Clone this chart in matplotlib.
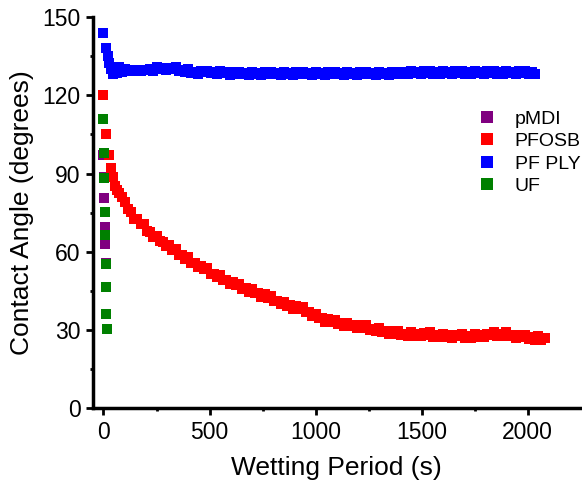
import matplotlib.pyplot as plt

plt.rcParams['font.family'] = ['Liberation Sans', 'DejaVu Sans']

# pMDI and UF drops are absorbed within seconds
t_pmdi = [0, 2, 4, 6, 8, 10]
ca_pmdi = [97.0, 88.6, 80.5, 69.5, 63.0, 55.5]

t_uf = [0, 2, 4, 6, 8, 10, 12, 14, 16]
ca_uf = [111.0, 97.8, 88.1, 75.3, 66.4, 55.2, 46.3, 36.1, 30.3]

# PFOSB decays slowly over ~35 min
t_pfosb = [0, 12, 25, 35, 45, 55, 65, 75, 85,
           100, 115, 130, 145, 160, 175, 190, 205, 220, 235,
           250, 265, 280, 295, 310, 325, 340, 355, 370, 385,
           400, 415, 430, 445, 460, 475, 490, 505, 520, 535,
           550, 565, 580, 595, 610, 625, 640, 655, 670, 685,
           700, 715, 730, 745, 760, 775, 790, 805, 820, 835,
           850, 865, 880, 895, 910, 925, 940, 955, 970, 985,
           1000, 1015, 1030, 1045, 1060, 1075, 1090, 1105, 1120, 1135,
           1150, 1165, 1180, 1195, 1210, 1225, 1240, 1255, 1270, 1285,
           1300, 1315, 1330, 1345, 1360, 1375, 1390, 1405, 1420, 1435,
           1450, 1465, 1480, 1495, 1510, 1525, 1540, 1555, 1570, 1585,
           1600, 1615, 1630, 1645, 1660, 1675, 1690, 1705, 1720, 1735,
           1750, 1765, 1780, 1795, 1810, 1825, 1840, 1855, 1870, 1885,
           1900, 1915, 1930, 1945, 1960, 1975, 1990, 2005, 2020, 2035,
           2050, 2065, 2080]
ca_pfosb = [120.0, 105.0, 97.0, 92.0, 88.5, 85.4, 83.6, 82.4, 81.0,
            79.2, 76.3, 75.1, 72.7, 72.7, 70.8, 70.7, 68.0, 67.6, 65.8,
            66.2, 64.1, 63.9, 62.1, 62.5, 60.8, 61.1, 58.8, 58.7, 57.2,
            57.8, 55.8, 55.8, 54.0, 54.6, 53.2, 53.6, 51.4, 51.5, 50.1,
            50.9, 49.1, 49.2, 47.7, 48.4, 47.2, 47.7, 45.6, 45.9, 44.6,
            45.6, 44.0, 44.3, 42.8, 43.6, 42.4, 43.0, 40.9, 41.1, 39.9,
            40.8, 39.2, 39.5, 38.1, 39.1, 38.1, 38.8, 36.7, 36.8, 35.4,
            36.1, 34.4, 34.6, 33.1, 34.1, 33.1, 33.9, 32.2, 32.7, 31.6,
            32.8, 31.4, 31.8, 30.6, 31.8, 30.9, 31.8, 30.0, 30.5, 29.5,
            30.7, 29.2, 29.6, 28.4, 29.5, 28.6, 29.5, 27.9, 28.6, 27.7,
            29.1, 27.8, 28.5, 27.5, 28.8, 28.0, 29.0, 27.4, 28.1, 27.2,
            28.5, 27.3, 27.9, 27.0, 28.2, 27.5, 28.5, 27.0, 27.8, 27.0,
            28.5, 27.3, 28.1, 27.1, 28.5, 27.9, 29.1, 27.7, 28.5, 27.7,
            29.0, 27.6, 28.1, 27.0, 28.1, 27.3, 28.2, 26.6, 27.1, 26.2,
            27.5, 26.1, 26.7]

# PF PLY stays hydrophobic after a short initial drop
t_pfply = [0, 12, 20, 28, 36, 45, 55, 65, 75, 85,
           100, 115, 130, 145, 160, 175, 190, 205, 220, 235,
           250, 265, 280, 295, 310, 325, 340, 355, 370, 385,
           400, 415, 430, 445, 460, 475, 490, 505, 520, 535,
           550, 565, 580, 595, 610, 625, 640, 655, 670, 685,
           700, 715, 730, 745, 760, 775, 790, 805, 820, 835,
           850, 865, 880, 895, 910, 925, 940, 955, 970, 985,
           1000, 1015, 1030, 1045, 1060, 1075, 1090, 1105, 1120, 1135,
           1150, 1165, 1180, 1195, 1210, 1225, 1240, 1255, 1270, 1285,
           1300, 1315, 1330, 1345, 1360, 1375, 1390, 1405, 1420, 1435,
           1450, 1465, 1480, 1495, 1510, 1525, 1540, 1555, 1570, 1585,
           1600, 1615, 1630, 1645, 1660, 1675, 1690, 1705, 1720, 1735,
           1750, 1765, 1780, 1795, 1810, 1825, 1840, 1855, 1870, 1885,
           1900, 1915, 1930, 1945, 1960, 1975, 1990, 2005, 2020, 2035]
ca_pfply = [143.8, 138.3, 135.0, 132.5, 130.0, 128.2, 130.5, 128.5, 131.0, 128.8,
            130.2, 129.4, 129.8, 129.2, 129.7, 129.2, 129.9, 129.6, 130.0, 129.5,
            130.8, 130.0, 130.4, 129.8, 130.7, 130.2, 130.9, 129.2, 129.6, 129.1,
            130.1, 128.6, 129.0, 128.4, 129.3, 128.8, 129.5, 128.5, 128.9, 128.4,
            129.4, 128.6, 129.0, 128.0, 128.9, 128.4, 129.1, 128.1, 128.5, 128.0,
            129.0, 128.2, 128.6, 128.0, 128.9, 128.4, 129.1, 128.1, 128.5, 128.0,
            129.0, 128.2, 128.6, 128.0, 128.9, 128.4, 129.1, 128.1, 128.5, 128.0,
            129.0, 128.2, 128.6, 128.0, 128.9, 128.4, 129.1, 128.1, 128.5, 128.0,
            129.0, 128.2, 128.6, 128.0, 128.9, 128.4, 129.1, 128.1, 128.5, 128.0,
            129.0, 128.2, 128.6, 128.0, 128.9, 128.4, 129.1, 128.4, 128.8, 128.3,
            129.3, 128.5, 128.9, 128.3, 129.2, 128.7, 129.4, 128.4, 128.8, 128.3,
            129.3, 128.5, 128.9, 128.3, 129.2, 128.7, 129.4, 128.4, 128.8, 128.3,
            129.3, 128.5, 128.9, 128.3, 129.2, 128.7, 129.4, 128.4, 128.8, 128.3,
            129.3, 128.5, 128.9, 128.3, 129.2, 128.7, 129.4, 128.4, 128.8, 128.3]

fig = plt.figure(figsize=(5.82, 4.88), dpi=100)
ax = fig.add_axes([0.1596, 0.1639, 0.838, 0.8008])

ms = 7.5
ax.plot(t_pmdi, ca_pmdi, 's', color='#800080', ms=ms, mew=0, label='pMDI')
ax.plot(t_pfosb, ca_pfosb, 's', color='#ff0000', ms=ms, mew=0, label='PFOSB')
ax.plot(t_pfply, ca_pfply, 's', color='#0000ff', ms=ms, mew=0, label='PF PLY')
ax.plot(t_uf, ca_uf, 's', color='#008000', ms=ms, mew=0, label='UF')

ax.set_xlim(-50, 2250)
ax.set_ylim(0, 150)
ax.set_xticks([0, 500, 1000, 1500, 2000])
ax.set_xticks([250, 750, 1250, 1750], minor=True)
ax.set_yticks([0, 30, 60, 90, 120, 150])
ax.set_yticks([15, 45, 75, 105, 135], minor=True)

for side in ('top', 'right'):
    ax.spines[side].set_visible(False)
for side in ('left', 'bottom'):
    ax.spines[side].set_linewidth(2.5)

ax.tick_params(which='major', direction='out', length=5, width=2,
               labelsize=16.5, pad=4)
ax.tick_params(which='minor', direction='out', length=2.5, width=2)

ax.set_xlabel('Wetting Period (s)', fontsize=19, labelpad=9)
ax.set_ylabel('Contact Angle (degrees)', fontsize=19, labelpad=6)

ax.legend(loc='upper left', bbox_to_anchor=(0.786, 0.81),
          bbox_transform=fig.transFigure, frameon=False, fontsize=14,
          markerscale=1.1, handletextpad=0.85, labelspacing=0.25,
          handlelength=1.2)

fig.savefig('out.png', dpi=100)
